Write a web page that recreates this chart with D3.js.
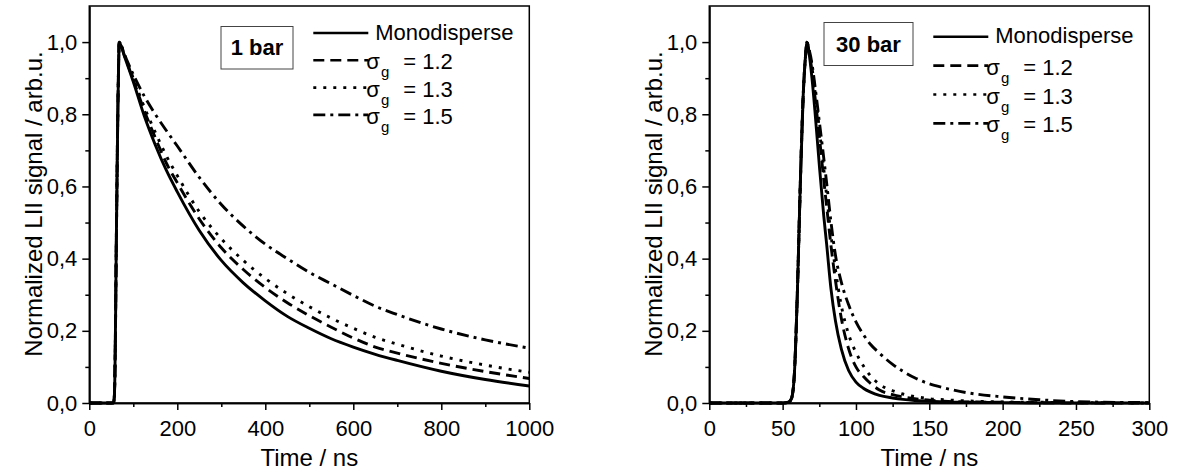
<!DOCTYPE html>
<html><head><meta charset="utf-8">
<script src="https://cdn.jsdelivr.net/npm/d3@7"></script>
<style>
body{margin:0;background:#fff}
text{font-family:"Liberation Sans",Arial,Helvetica,sans-serif;fill:#000}
</style>
</head><body>
<svg id="c" width="1179" height="473"></svg>
<script>
// ---------- data: 1 bar ----------
const time1bar = [0,55,57,59,61,63,65,67,68,80,100,125,150,175,200,250,300,350,400,450,500,550,600,650,700,800,900,1000];
const mono1bar = [0,0,0.02,0.15,0.4,0.62,0.82,0.96,1.0,0.96,0.89,0.795,0.715,0.645,0.585,0.478,0.395,0.333,0.283,0.24,0.207,0.178,0.155,0.135,0.118,0.088,0.065,0.047];
const s12_1bar = [0,0,0.02,0.15,0.4,0.62,0.82,0.96,1.0,0.962,0.895,0.81,0.735,0.665,0.61,0.51,0.43,0.37,0.32,0.278,0.242,0.21,0.18,0.155,0.138,0.11,0.087,0.068];
const s13_1bar = [0,0,0.02,0.15,0.4,0.62,0.82,0.96,1.0,0.965,0.90,0.82,0.75,0.685,0.63,0.53,0.455,0.395,0.345,0.303,0.267,0.235,0.207,0.182,0.163,0.13,0.105,0.085];
const s15_1bar = [0,0,0.02,0.15,0.4,0.62,0.82,0.96,1.0,0.965,0.91,0.85,0.80,0.755,0.712,0.625,0.55,0.49,0.44,0.40,0.362,0.33,0.298,0.268,0.245,0.205,0.175,0.152];

// ---------- data: 30 bar ----------
const time30bar = [0,50,54,56,58,60,62,64,66,66.5,68,70,72,75,78,80,83,86,90,95,100,105,110,116,125,132,140,150,160,175,200,225,250,300];
const mono30bar = [0,0,0.002,0.012,0.08,0.3,0.6,0.85,0.98,1.0,0.97,0.9,0.81,0.66,0.52,0.44,0.315,0.228,0.15,0.09,0.058,0.041,0.03,0.021,0.014,0.01,0.007,0.005,0.003,0.002,0.001,0,0,0];
const s12_30bar = [0,0,0.002,0.012,0.08,0.3,0.6,0.85,0.98,1.0,0.975,0.92,0.85,0.74,0.62,0.545,0.435,0.34,0.235,0.15,0.1,0.074,0.054,0.036,0.023,0.017,0.012,0.008,0.005,0.003,0.002,0.001,0,0];
const s13_30bar = [0,0,0.002,0.012,0.08,0.3,0.6,0.85,0.98,1.0,0.978,0.93,0.865,0.76,0.65,0.575,0.465,0.37,0.27,0.19,0.14,0.103,0.075,0.052,0.034,0.025,0.018,0.012,0.009,0.006,0.003,0.002,0.001,0];
const s15_30bar = [0,0,0.002,0.012,0.08,0.3,0.6,0.85,0.98,1.0,0.98,0.94,0.88,0.78,0.68,0.61,0.5,0.41,0.335,0.272,0.225,0.19,0.162,0.138,0.107,0.088,0.07,0.053,0.042,0.029,0.017,0.009,0.004,0.001];

// ---------- labels / ticks ----------
const seriesNames = ["Monodisperse", "1.2", "1.3", "1.5"];
const panelTitles = ["1 bar", "30 bar"];
const yTicks = [0, 0.2, 0.4, 0.6, 0.8, 1.0];
const yMinorTicks = [0.1, 0.3, 0.5, 0.7, 0.9];
const xTicks1bar = [0, 200, 400, 600, 800, 1000];
const xMinor1bar = [100, 300, 500, 700, 900];
const xTicks30bar = [0, 50, 100, 150, 200, 250, 300];
const xMinor30bar = [25, 75, 125, 175, 225, 275];
const xLabel = "Time / ns";
const yLabel = "Normalized LII signal / arb.u.";

// ---------- styles ----------
const dashes = [null, "11,6", "3,7", "12,5,3,5"];
const svg = d3.select("#c");
const yFmt = d => d3.format(".1f")(d).replace(".", ",");
const xFmt = d3.format("d");

function panel(opt) {
  const x = d3.scaleLinear().domain(opt.xDomain).range([opt.left, opt.left + 440]);
  const y = d3.scaleLinear().domain([0, 1.1]).range([403, 6]);
  const g = svg.append("g");

  // curves
  const line = d3.line().x(d => x(d[0])).y(d => y(d[1])).curve(d3.curveMonotoneX);
  opt.series.forEach((vals, i) => {
    const pts = opt.time.map((t, k) => [t, vals[k]]);
    g.append("path").attr("d", line(pts))
      .attr("fill", "none").attr("stroke", "#000").attr("stroke-width", 2.9)
      .attr("stroke-dasharray", dashes[i]);
  });

  // frame
  g.append("rect").attr("x", x.range()[0]).attr("y", 6)
    .attr("width", 440).attr("height", 397)
    .attr("fill", "none").attr("stroke", "#000").attr("stroke-width", 1.5);

  // axes
  g.append("g").attr("transform", "translate(0,403)")
    .call(d3.axisBottom(x).tickValues(opt.xTicks).tickFormat(xFmt).tickSize(7).tickSizeOuter(0).tickPadding(10));
  g.append("g").attr("transform", "translate(0,403)")
    .call(d3.axisBottom(x).tickValues(opt.xMinor).tickSize(4).tickSizeOuter(0).tickFormat(""));
  g.append("g").attr("transform", `translate(${opt.left},0)`)
    .call(d3.axisLeft(y).tickValues(yTicks).tickFormat(yFmt).tickSize(7).tickSizeOuter(0).tickPadding(5));
  g.append("g").attr("transform", `translate(${opt.left},0)`)
    .call(d3.axisLeft(y).tickValues(yMinorTicks).tickSize(4).tickSizeOuter(0).tickFormat(""));
  g.selectAll(".domain").attr("stroke", "#000").attr("stroke-width", 1.5);
  g.selectAll(".tick line").attr("stroke", "#000").attr("stroke-width", 1.5);
  g.selectAll(".tick text").attr("font-size", 22)
    .attr("font-family", '"Liberation Sans",Arial,sans-serif').attr("fill", "#000");

  // axis titles
  g.append("text").attr("x", opt.left + 220).attr("y", 466).attr("text-anchor", "middle")
    .attr("font-size", 24).text(xLabel);
  g.append("text").attr("transform", `translate(${opt.left - 47},204) rotate(-90)`)
    .attr("text-anchor", "middle").attr("font-size", 24).text(yLabel);

  // title box
  const b = opt.box;
  g.append("rect").attr("x", b.x).attr("y", b.y).attr("width", b.w).attr("height", b.h)
    .attr("fill", "#fff").attr("stroke", "#444").attr("stroke-width", 1);
  g.append("text").attr("x", b.x + b.w / 2).attr("y", b.base).attr("text-anchor", "middle")
    .attr("font-size", 22).attr("font-weight", "bold").text(opt.title);

  // legend
  const lx = opt.left + 224;
  seriesNames.forEach((name, i) => {
    const ly = opt.legTop + i * opt.legStep;
    g.append("line").attr("x1", lx).attr("x2", lx + 55).attr("y1", ly).attr("y2", ly)
      .attr("stroke", "#000").attr("stroke-width", 2.6).attr("stroke-dasharray", dashes[i]);
    if (i === 0) {
      g.append("text").attr("x", lx + 62).attr("y", ly + 6.5).attr("font-size", 22).text(name);
    } else {
      const t = g.append("text").attr("x", lx + 53).attr("y", ly + 9).attr("font-size", 22);
      t.append("tspan").text("σ");
      t.append("tspan").attr("font-size", 15).attr("dy", 8).attr("dx", 1).text("g");
      t.append("tspan").attr("x", lx + 90).attr("dy", -8).text("= " + name);
    }
  });
}

panel({left: 89.3, xDomain: [0, 1000], xTicks: xTicks1bar, xMinor: xMinor1bar,
  time: time1bar, series: [mono1bar, s12_1bar, s13_1bar, s15_1bar], title: panelTitles[0],
  box: {x: 221, y: 26.5, w: 72, h: 42.5, base: 55}, legTop: 33, legStep: 27.3});
panel({left: 709.3, xDomain: [0, 300], xTicks: xTicks30bar, xMinor: xMinor30bar,
  time: time30bar, series: [mono30bar, s12_30bar, s13_30bar, s15_30bar], title: panelTitles[1],
  box: {x: 824, y: 22.5, w: 89, h: 43, base: 51.5}, legTop: 36.7, legStep: 28.9});
</script>
</body></html>
